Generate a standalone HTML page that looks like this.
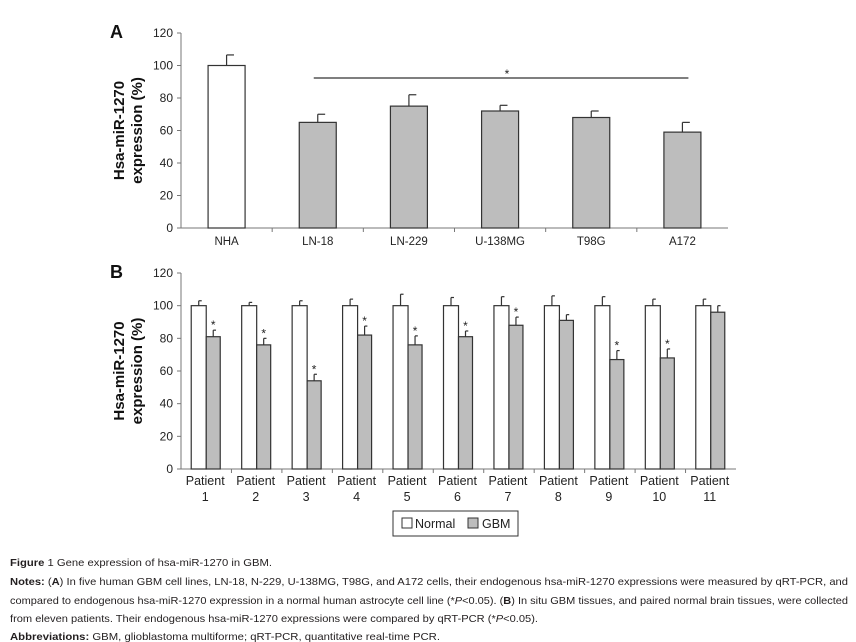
<!DOCTYPE html>
<html><head><meta charset="utf-8"><style>
body{margin:0;background:#fff}
svg{display:block;font-family:"Liberation Sans",Arial,sans-serif}
</style></head><body>
<svg id="fig" width="856" height="642" viewBox="0 0 856 642" xmlns="http://www.w3.org/2000/svg">
<g id="chartA"></g>
<g id="chartB"></g>
<g font-size="10.5" fill="#231f20">
<text x="10" y="566" textLength="262" lengthAdjust="spacingAndGlyphs"><tspan font-weight="bold">Figure</tspan> 1 Gene expression of hsa-miR-1270 in GBM.</text>
<text x="10" y="585" textLength="838" lengthAdjust="spacingAndGlyphs"><tspan font-weight="bold">Notes:</tspan> (<tspan font-weight="bold">A</tspan>) In five human GBM cell lines, LN-18, N-229, U-138MG, T98G, and A172 cells, their endogenous hsa-miR-1270 expressions were measured by qRT-PCR, and</text>
<text x="10" y="604" textLength="838" lengthAdjust="spacingAndGlyphs">compared to endogenous hsa-miR-1270 expression in a normal human astrocyte cell line (*<tspan font-style="italic">P</tspan>&lt;0.05). (<tspan font-weight="bold">B</tspan>) In situ GBM tissues, and paired normal brain tissues, were collected</text>
<text x="10" y="622" textLength="528" lengthAdjust="spacingAndGlyphs">from eleven patients. Their endogenous hsa-miR-1270 expressions were compared by qRT-PCR (*<tspan font-style="italic">P</tspan>&lt;0.05).</text>
<text x="10" y="640" textLength="430" lengthAdjust="spacingAndGlyphs"><tspan font-weight="bold">Abbreviations:</tspan> GBM, glioblastoma multiforme; qRT-PCR, quantitative real-time PCR.</text>
</g>
</svg>
<script>
const catsA = ["NHA","LN-18","LN-229","U-138MG","T98G","A172"];
const valsA = [100,65,75,72,68,59];
const errA = [6.5,5,7,3.5,4,6];
const patients = ["1","2","3","4","5","6","7","8","9","10","11"];
const normalVals = [100,100,100,100,100,100,100,100,100,100,100];
const normalErr = [3,2,3,4,7,5,5.5,6,5.5,4,4];
const gbmVals = [81,76,54,82,76,81,88,91,67,68,96];
const gbmErr = [4,4,4,5.5,5.5,3.5,5,3.5,5.5,5.5,4];
const gbmSig = [1,1,1,1,1,1,1,0,1,1,0];
const yTicks = [0,20,40,60,80,100,120];

const NS="http://www.w3.org/2000/svg";
function mk(p,t,a,txt){const e=document.createElementNS(NS,t);for(const k in a)e.setAttribute(k,a[k]);if(txt!=null)e.textContent=txt;p.appendChild(e);return e;}

function axes(g,x0,x1,y0,y1,label,letter,ly){
  const ys=v=>y0-(v/120)*(y0-y1);
  const ax=mk(g,'line',{x1:x0,y1:y1,x2:x0,y2:y0,stroke:'#777','stroke-width':1});
  
  const bx=mk(g,'line',{x1:x0-4,y1:y0,x2:x1,y2:y0,stroke:'#777','stroke-width':1});
  
  yTicks.forEach(t=>{
    mk(g,'line',{x1:x0-4,y1:ys(t),x2:x0,y2:ys(t),stroke:'#777'});
    const tl=mk(g,'text',{x:x0-8,y:ys(t)+4,'text-anchor':'end','font-size':12,fill:'#222'},t);
    
  });
  const yt=mk(g,'text',{transform:`translate(132,${(y0+y1)/2}) rotate(-90)`,'text-anchor':'middle','font-size':15,'font-weight':'bold',fill:'#111'});
  
  mk(yt,'tspan',{x:0,y:-8},'Hsa-miR-1270');mk(yt,'tspan',{x:0,y:10},'expression (%)');
  const L=mk(g,'text',{x:110,y:ly,'font-size':18,'font-weight':'bold',fill:'#111'},letter);
  
  return ys;
}
function bar(g,x,w,v,e,fill,ys,name){
  const r=mk(g,'rect',{x:x,y:ys(v),width:w,height:ys(0)-ys(v),fill:fill,stroke:'#333','stroke-width':1.2});
  
  const cx=x+w/2;
  mk(g,'line',{x1:cx,y1:ys(v),x2:cx,y2:ys(v+e),stroke:'#333','stroke-width':1.2});
  mk(g,'line',{x1:cx,y1:ys(v+e),x2:cx+w*0.2,y2:ys(v+e),stroke:'#333','stroke-width':1.2});
}
// Chart A
{
  const g=document.getElementById('chartA');
  const x0=181,x1=728,y0=228,y1=33;
  const ys=axes(g,x0,x1,y0,y1,'','A',38);
  const pitch=(x1-x0)/catsA.length,bw=37;
  catsA.forEach((c,i)=>{
    const cx=x0+pitch*(i+0.5);
    if(i>0) mk(g,'line',{x1:x0+pitch*i,y1:y0,x2:x0+pitch*i,y2:y0+4,stroke:'#777'});
    bar(g,cx-bw/2,bw,valsA[i],errA[i],i==0?'#fff':'#bdbdbd',ys,'bar-'+c.toLowerCase());
    const t=mk(g,'text',{x:cx,y:y0+17,'text-anchor':'middle','font-size':11.5,fill:'#222'},c);
    
  });
  const sl=mk(g,'line',{x1:x0+pitch*1.5-4,y1:78,x2:x0+pitch*5.5+6,y2:78,stroke:'#555','stroke-width':1.5});
  
  const st=mk(g,'text',{x:507,y:78,'text-anchor':'middle','font-size':12,fill:'#222'},'*');
  
}
// Chart B
{
  const g=document.getElementById('chartB');
  const x0=181,x1=736,y0=469,y1=273;
  const ys=axes(g,x0,x1,y0,y1,'','B',278);
  const pitch=(x1-x0)/patients.length,bw=15;
  patients.forEach((p,i)=>{
    const cx=x0+pitch*(i+0.5);
    if(i>0) mk(g,'line',{x1:x0+pitch*i,y1:y0,x2:x0+pitch*i,y2:y0+4,stroke:'#777'});
    bar(g,cx-bw,bw,normalVals[i],normalErr[i],'#fff',ys,'bar-normal-'+p);
    bar(g,cx,bw-1,gbmVals[i],gbmErr[i],'#bdbdbd',ys,'bar-gbm-'+p);
    if(gbmSig[i]){
      const s=mk(g,'text',{x:cx+7,y:ys(gbmVals[i]+gbmErr[i])-1,'text-anchor':'middle','font-size':12,fill:'#222'},'*');
      
    }
    const t=mk(g,'text',{x:cx-1,y:y0+16,'text-anchor':'middle','font-size':12.5,fill:'#222'});
    
    mk(t,'tspan',{x:cx-1,dy:0},'Patient');mk(t,'tspan',{x:cx-1,dy:16},p);
  });
  const lg=mk(g,'g',{});
  
  mk(lg,'rect',{x:393,y:511,width:125,height:25,fill:'#fff',stroke:'#333'});
  mk(lg,'rect',{x:402,y:518,width:10,height:10,fill:'#fff',stroke:'#333'});
  mk(lg,'text',{x:415,y:528,'font-size':12.5,fill:'#222'},'Normal');
  mk(lg,'rect',{x:468,y:518,width:10,height:10,fill:'#bdbdbd',stroke:'#333'});
  mk(lg,'text',{x:482,y:528,'font-size':12.5,fill:'#222'},'GBM');
}
</script>
</body></html>
